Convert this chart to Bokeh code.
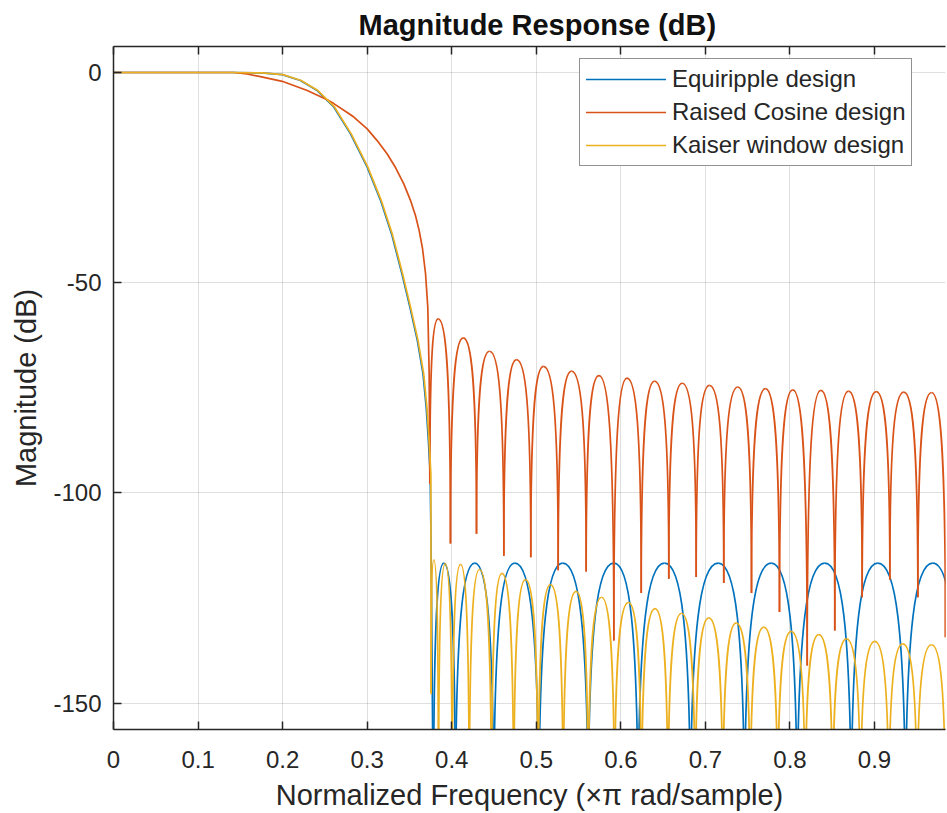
from bokeh.plotting import figure
from bokeh.models import (LinearAxis, Range1d, FixedTicker, Legend, LegendItem,
                          CustomJSTickFormatter, Grid, ColumnDataSource)
from bokeh.embed import file_html
from bokeh.resources import INLINE

# ---------------- data ----------------
freq_ticks = [0, 0.1, 0.2, 0.3, 0.4, 0.5, 0.6, 0.7, 0.8, 0.9]
db_ticks = [-150, -100, -50, 0]

series_names = ["Equiripple design", "Raised Cosine design", "Kaiser window design"]
title_text = "Magnitude Response (dB)"
x_label_text = "Normalized Frequency (\u00d7\u03c0 rad/sample)"
y_label_text = "Magnitude (dB)"

# Equiripple: passband / transition
eq_pass_f = [0, 0.1423, 0.1750, 0.1995, 0.2211, 0.2409, 0.2605, 0.2803, 0.3000, 0.3158,
             0.3290, 0.3410, 0.3505, 0.3593, 0.3660, 0.3698, 0.3724, 0.3745, 0.3755]
eq_pass_db = [0, 0, -0.1, -0.5, -1.9, -4.3, -8.2, -14.6, -22.5, -30.4,
              -38.5, -47.8, -55.8, -63.7, -71.6, -79.6, -87.5, -95.4, -111.3]
# Equiripple: stopband, alternating null / peak (first entry is a null)
eq_stop_f = [0.3784, 0.3906, 0.4044, 0.4273, 0.4497, 0.4746, 0.5030, 0.5313, 0.5613, 0.5917,
             0.6203, 0.6516, 0.6823, 0.7151, 0.7462, 0.7778, 0.8085, 0.8412, 0.8724, 0.9038,
             0.9366, 0.9689, 1.0]
eq_stop_db = [-180, -116.7, -180, -116.7, -180, -116.7, -180, -116.7, -180, -116.7,
              -180, -116.7, -180, -116.7, -180, -116.7, -180, -116.7, -180, -116.7,
              -180, -116.7, -180]

# Raised cosine: passband / transition
rc_pass_f = [0, 0.1423, 0.1580, 0.1738, 0.1995, 0.2291, 0.2527, 0.2605, 0.2764, 0.2842,
             0.3000, 0.3118, 0.3237, 0.3335, 0.3433, 0.3512, 0.3571, 0.3615, 0.3654, 0.3690,
             0.3717, 0.3733]
rc_pass_db = [0, 0, -0.35, -1.0, -2.1, -4.3, -6.5, -7.4, -9.5, -10.6,
              -13.4, -16.2, -19.4, -22.6, -26.5, -30.4, -34.0, -37.6, -41.8, -47.8,
              -55.9, -71.6]
# Raised cosine: stopband, alternating null / peak
rc_stop_f = [0.3741, 0.3840, 0.3985, 0.4136, 0.4293, 0.4447, 0.4616, 0.4766, 0.4935, 0.5085,
             0.5259, 0.5416, 0.5590, 0.5741, 0.5917, 0.6073, 0.6241, 0.6398, 0.6567, 0.6725,
             0.6891, 0.7048, 0.7217, 0.7383, 0.7545, 0.7710, 0.7876, 0.8033, 0.8204, 0.8365,
             0.8530, 0.8692, 0.8854, 0.9020, 0.9181, 0.9346, 0.9512, 0.9674, 0.9839, 1.0]
rc_stop_db = [-97.7, -58.6, -112.0, -63.1, -109.7, -66.3, -114.9, -68.3, -115.3, -69.9,
              -118.4, -71.0, -118.7, -72.1, -135.1, -72.7, -123.8, -73.4, -120.4, -73.9,
              -120.0, -74.4, -121.4, -74.8, -123.8, -75.2, -128.3, -75.5, -141.0, -75.6,
              -132.7, -75.8, -124.8, -75.9, -120.6, -76.0, -124.8, -76.1, -134.3, -76.2]

# Kaiser window: passband / transition
ks_pass_f = [0, 0.1423, 0.1758, 0.2003, 0.2219, 0.2417, 0.2613, 0.2811, 0.3008, 0.3166,
             0.3298, 0.3418, 0.3513, 0.3601, 0.3668, 0.3706, 0.3732, 0.3753]
ks_pass_db = [0, 0, -0.1, -0.5, -1.9, -4.3, -8.2, -14.6, -22.5, -30.4,
              -38.5, -47.8, -55.8, -63.7, -71.6, -79.6, -87.5, -95.4]
# Kaiser window: stopband, alternating null / peak
ks_stop_f = [0.3757, 0.3788, 0.3843, 0.3923, 0.4005, 0.4104, 0.4207, 0.4328, 0.4470, 0.4594,
             0.4733, 0.4872, 0.5022, 0.5168, 0.5318, 0.5470, 0.5614, 0.5771, 0.5925, 0.6090,
             0.6244, 0.6404, 0.6557, 0.6717, 0.6879, 0.7040, 0.7206, 0.7364, 0.7530, 0.7690,
             0.7855, 0.8014, 0.8180, 0.8341, 0.8505, 0.8668, 0.8834, 0.9003, 0.9169, 0.9334,
             0.9503, 0.9674, 0.9839, 1.0]
ks_stop_db = [-147.7, -115.9, -180, -116.8, -180, -117.0, -180, -118.2, -180, -119.1,
              -180, -120.6, -180, -121.8, -180, -123.4, -180, -124.8, -180, -126.0,
              -180, -127.5, -180, -128.6, -180, -129.7, -180, -130.9, -180, -131.9,
              -180, -132.9, -180, -133.7, -180, -134.7, -180, -135.3, -180, -135.9,
              -180, -136.1, -180, -136.3]

colors = ["#0072BD", "#D95319", "#EDB120"]

# ---------------- styling ----------------
FONT = "Liberation Sans"
AX = "#262626"
LW = 1.7
K_NULL = 0.8   # control-handle height at a null (fraction of null->peak rise)
K_PEAK = 0.6   # control-handle length at a peak (fraction of half-lobe width)


def lobe_source(fs, dbs):
    """Half-lobe cubic Bezier segments between consecutive null / peak points."""
    d = dict(x0=[], y0=[], x1=[], y1=[], cx0=[], cy0=[], cx1=[], cy1=[])
    for i in range(len(fs) - 1):
        xa, ya, xb, yb = fs[i], dbs[i], fs[i + 1], dbs[i + 1]
        if ya < yb:   # null -> peak
            ca = (xa, ya + K_NULL * (yb - ya))
            cb = (xb - K_PEAK * (xb - xa), yb)
        else:         # peak -> null
            ca = (xa + K_PEAK * (xb - xa), ya)
            cb = (xb, yb + K_NULL * (ya - yb))
        d["x0"].append(xa); d["y0"].append(ya)
        d["x1"].append(xb); d["y1"].append(yb)
        d["cx0"].append(ca[0]); d["cy0"].append(ca[1])
        d["cx1"].append(cb[0]); d["cy1"].append(cb[1])
    return ColumnDataSource(d)


p = figure(width=947, height=813,
           x_range=Range1d(0, 0.98392), y_range=Range1d(-156.25, 6.18),
           output_backend="svg", toolbar_location=None,
           x_axis_type=None, y_axis_type=None,
           min_border_left=113, min_border_right=2, min_border_top=46, min_border_bottom=84)
p.outline_line_color = None
p.background_fill_color = "white"
p.border_fill_color = "white"

# grids
for dim, ticks in ((0, freq_ticks), (1, db_ticks)):
    g = Grid(dimension=dim, ticker=FixedTicker(ticks=ticks),
             grid_line_color=AX, grid_line_alpha=0.15, grid_line_width=1)
    p.add_layout(g, "center")

# axes
xfmt = CustomJSTickFormatter(code="return tick == 0 ? '0' : tick.toFixed(1);")
yfmt = CustomJSTickFormatter(code="return tick.toFixed(0);")
xaxis = LinearAxis(ticker=FixedTicker(ticks=freq_ticks), formatter=xfmt,
                   axis_label=x_label_text)
yaxis = LinearAxis(ticker=FixedTicker(ticks=db_ticks), formatter=yfmt,
                   axis_label=y_label_text)
topaxis = LinearAxis(ticker=FixedTicker(ticks=freq_ticks),
                     formatter=CustomJSTickFormatter(code="return '';"))
for ax in (xaxis, yaxis, topaxis):
    ax.axis_line_color = AX
    ax.axis_line_width = 1.5
    ax.major_tick_line_color = AX
    ax.major_tick_line_width = 1.5
    ax.major_tick_in = 8
    ax.major_tick_out = 0
    ax.minor_tick_line_color = None
    ax.major_label_text_font = FONT
    ax.major_label_text_font_size = "24px"
    ax.major_label_text_color = AX
    ax.axis_label_text_font = FONT
    ax.axis_label_text_font_size = "29px"
    ax.axis_label_text_font_style = "normal"
    ax.axis_label_text_color = AX
xaxis.major_label_standoff = 21
xaxis.axis_label_standoff = 8
xaxis.major_label_text_line_height = 0.9
xaxis.axis_label_text_line_height = 0.8
yaxis.major_label_standoff = 12
yaxis.axis_label_standoff = 8
topaxis.major_label_text_font_size = "0px"
topaxis.major_label_standoff = 0
p.add_layout(xaxis, "below")
p.add_layout(yaxis, "left")
p.add_layout(topaxis, "above")

# title
p.title.text = title_text
p.title.align = "left"
p.title.offset = 245
p.title.text_font = FONT
p.title.text_font_size = "29px"
p.title.text_font_style = "bold"
p.title.text_color = "#111111"
p.title.standoff = 12

# curves (drawing order: equiripple, raised cosine, kaiser)
data = [
    (eq_pass_f, eq_pass_db, eq_stop_f, eq_stop_db),
    (rc_pass_f, rc_pass_db, rc_stop_f, rc_stop_db),
    (ks_pass_f, ks_pass_db, ks_stop_f, ks_stop_db),
]
legend_renderers = []
for (pf, pdb, sf, sdb), col in zip(data, colors):
    r = p.line(pf + sf[:1], pdb + sdb[:1], line_color=col, line_width=LW,
               line_join="round", line_cap="round")
    p.bezier(x0="x0", y0="y0", x1="x1", y1="y1", cx0="cx0", cy0="cy0",
             cx1="cx1", cy1="cy1", source=lobe_source(sf, sdb),
             line_color=col, line_width=LW)
    legend_renderers.append(r)

legend = Legend(items=[LegendItem(label=n, renderers=[r])
                       for n, r in zip(series_names, legend_renderers)],
                location=(466, 563))
legend.label_text_font = FONT
legend.label_text_font_size = "24px"
legend.label_text_color = AX
legend.glyph_width = 80
legend.glyph_height = 28
legend.label_height = 28
legend.label_standoff = 6
legend.spacing = 5
legend.padding = 6
legend.margin = 0
legend.border_line_color = AX
legend.border_line_width = 1.3
legend.background_fill_color = "white"
legend.background_fill_alpha = 1.0
p.add_layout(legend, "center")

open("out.html", "w").write(file_html(p, INLINE))
